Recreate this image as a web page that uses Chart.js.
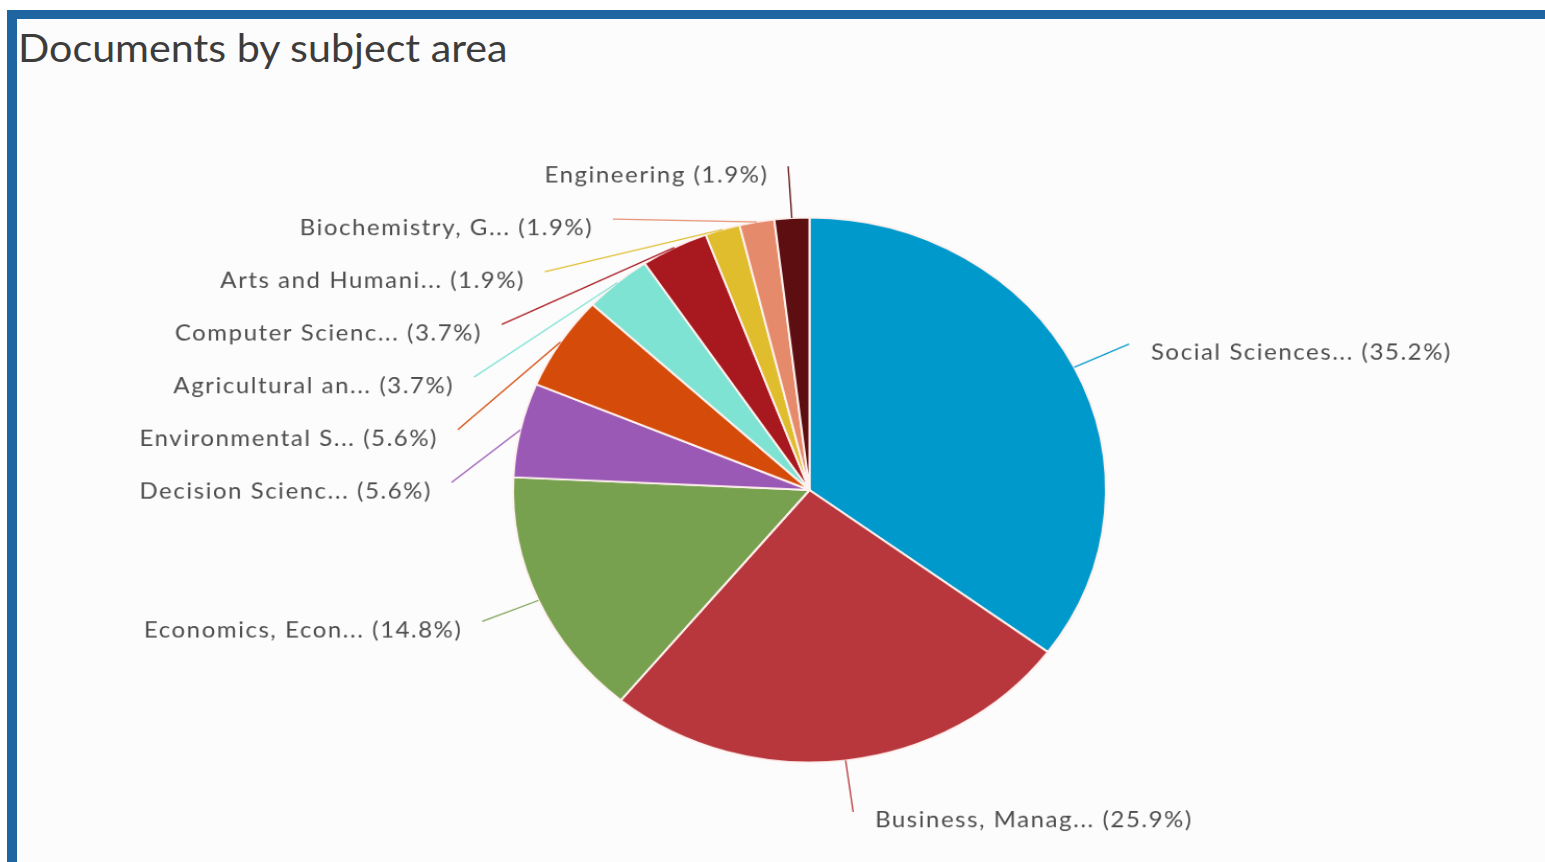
<!DOCTYPE html>
<html>
<head>
<meta charset="utf-8">
<title>Documents by subject area</title>
<script src="https://cdn.jsdelivr.net/npm/chart.js@4.4.0/dist/chart.umd.min.js"></script>
<style>
  body { margin: 0; background: #fff; font-family: Lato, "Open Sans", sans-serif; overflow: hidden; }
  #frame {
    position: absolute; left: 7px; top: 10px; width: 1538px; height: 852px;
    border-left: 10px solid #1f65a1; border-top: 9px solid #1f65a1;
    background: #fcfcfc;
  }
  #title {
    position: absolute; left: 18px; top: 24px;
    font-size: 38px; color: #3c3c3c;
    transform: scaleX(1.085); transform-origin: 0 0;
  }
  /* the original screenshot is stretched a little: wider than tall */
  #myChart {
    position: absolute; left: 0; top: 0;
    transform-origin: 810px 490px; transform: scale(1.042, 0.958);
  }
</style>
</head>
<body>
<div id="frame"></div>
<div id="title">Documents by subject area</div>
<canvas id="myChart" width="1545" height="862"></canvas>
<script>
var $ = function (id) { return document.getElementById(id); };

// subject areas, clockwise from the top
const subjects = [
    'Social Sciences...',
    'Business, Manag...',
    'Economics, Econ...',
    'Decision Scienc...',
    'Environmental S...',
    'Agricultural an...',
    'Computer Scienc...',
    'Arts and Humani...',
    'Biochemistry, G...',
    'Engineering'
];
// share of documents, %
const shares = [35.2, 25.9, 14.8, 5.6, 5.6, 3.7, 3.7, 1.9, 1.9, 1.9];
const sliceColors = [
    '#0099cc', '#b8373d', '#77a04f', '#9b59b6', '#d44b0a',
    '#7fe3d4', '#a8191f', '#dfbd2c', '#e58b6c', '#5c0e11'
];

// outside labels with connector lines, stacked like the original
const pieLabels = {
    id: 'pieLabels',
    afterDraw(chart) {
        const ctx = chart.ctx;
        const arcs = chart.getDatasetMeta(0).data;
        let items = [];
        arcs.forEach((arc, i) => {
            const p = arc.getProps(['x', 'y', 'startAngle', 'endAngle', 'outerRadius'], true);
            const mid = (p.startAngle + p.endAngle) / 2;
            const ry = p.outerRadius + 54;
            items.push({
                i: i,
                cx: p.x, cy: p.y,
                ex: p.x + p.outerRadius * Math.cos(mid),
                ey: p.y + p.outerRadius * Math.sin(mid),
                y: p.y + ry * Math.sin(mid),
                ry: ry,
                rx: p.outerRadius + 59,
                left: Math.cos(mid) < 0
            });
        });

        [true, false].forEach(side => {
            const group = items.filter(it => it.left == side).sort((a, b) => a.y - b.y);
            var prev = null;
            group.forEach(it => {
                const top = it.cy - it.ry;
                if (it.y < top) it.y = top;
                if (prev !== null && it.y < prev + 55) it.y = prev + 55;
                prev = it.y;
            });
        });

        ctx.save();
        ctx.font = '23px Lato, "Open Sans", sans-serif';
        ctx.letterSpacing = '1.5px';
        ctx.textBaseline = 'middle';
        items.forEach(it => {
            const dy = (it.y - it.cy) / it.ry;
            const dx = it.rx * Math.sqrt(Math.max(0, 1 - dy * dy));
            const lx = it.left ? it.cx - dx : it.cx + dx;

            ctx.strokeStyle = sliceColors[it.i];
            ctx.lineWidth = 1.3;
            ctx.beginPath();
            ctx.moveTo(lx, it.y);
            ctx.lineTo(it.ex, it.ey);
            ctx.stroke();

            const text = subjects[it.i] + ' (' + shares[it.i].toFixed(1) + '%)';
            ctx.fillStyle = '#4d4d4d';
            ctx.textAlign = it.left ? 'right' : 'left';
            ctx.fillText(text, it.left ? lx - 19 : lx + 21, it.y + 9);
        });
        ctx.restore();
    }
};

const displayChart = () => {
    var ctx = $('myChart').getContext('2d');
    var chart = new Chart(ctx, {
        type: 'pie',
        data: {
            labels: subjects,
            datasets: [{
                data: shares,
                backgroundColor: sliceColors,
                borderColor: '#fff2ef',
                borderWidth: 2
            }]
        },
        options: {
            responsive: false,
            animation: false,
            layout: { padding: { left: 524, right: 450, top: 204, bottom: 86 } },
            plugins: {
                legend: { display: false },
                tooltip: { enabled: false }
            }
        },
        plugins: [pieLabels]
    });
};

window.onload = () => {
    displayChart();
};
</script>
</body>
</html>
